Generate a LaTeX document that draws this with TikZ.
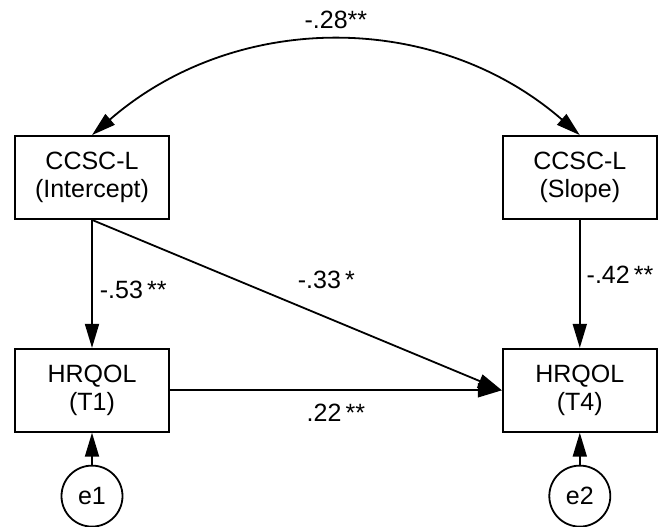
\documentclass[tikz,border=0pt]{standalone}
\usepackage{fontspec}
\setmainfont{Liberation Sans}
\usetikzlibrary{shapes.geometric}
\usetikzlibrary{arrows.meta}
\usetikzlibrary{positioning}

\begin{document}
\begin{tikzpicture}[
  font=\fontsize{25pt}{28pt}\selectfont,
  var/.style={rectangle, draw, line width=1.8pt, minimum width=154pt, minimum height=83pt, align=center, inner sep=0pt},
  err/.style={ellipse, draw, line width=1.8pt, minimum width=61pt, minimum height=61pt, inner sep=0pt},
  arr/.style={->, line width=1.8pt},
  coef/.style={inner sep=0pt},
]
\tikzset{>={Triangle[length=24pt, width=14pt]}}
\useasboundingbox (-92pt,-349.5pt) rectangle (567pt,177.5pt);

%% Predictors
\node[var] (Intercept) at (0,0)             {CCSC-L\\(Intercept)};
\node[var] (Slope)     [right=332pt of Intercept] {CCSC-L\\(Slope)};

%% Outcomes
\node[var] (T1) [below=128pt of Intercept] {HRQOL\\(T1)};
\node[var] (T4) [below=128pt of Slope]     {HRQOL\\(T4)};

%% Residuals
\node[err] (e1) [below=32pt of T1] {e1};
\node[err] (e2) [below=32pt of T4] {e2};

\draw[arr, <->] (Intercept.north) to[bend left=41]
  node[coef, midway, above=12pt] {-.28**} (Slope.north);
\draw[arr] (Intercept.south) -- node[coef, pos=0.55, right=7pt] {-.53\,**} (T1.north);
\draw[arr] (Slope.south)     -- node[coef, pos=0.43, right=6pt] {-.42\,**} (T4.north);
\draw[arr] (Intercept.south) -- node[coef, pos=0.5, anchor=south west, yshift=15pt] {-.33\,*} (T4.west);
\draw[arr] (T1.east)         -- node[coef, midway, below=13pt] {.22\,**} (T4.west);

\draw[arr] (e1) -- (T1);
\draw[arr] (e2) -- (T4);

\end{tikzpicture}
\end{document}
